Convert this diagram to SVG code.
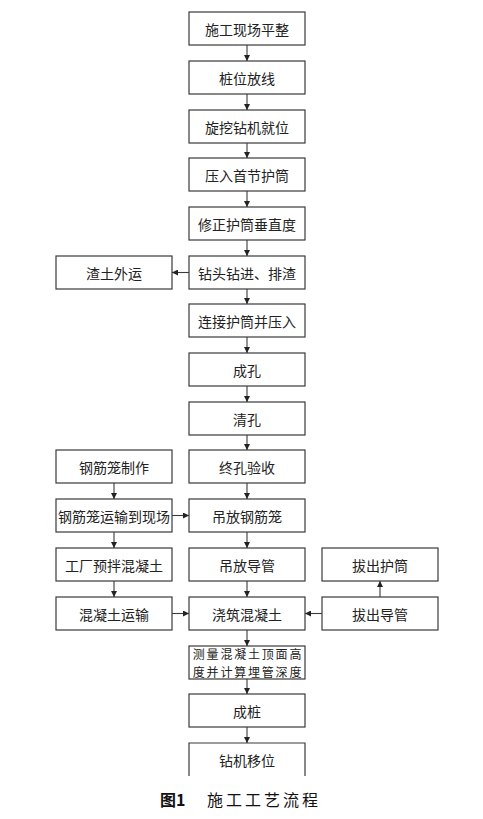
<svg xmlns="http://www.w3.org/2000/svg" width="483" height="819" viewBox="0 0 483 819">
<defs>
<style>
.b{fill:#fff;stroke:#3a3a3a;stroke-width:1.2}
.t{font-family:"Noto Sans CJK SC","Noto Sans CJK JP",sans-serif;font-size:14px;fill:#222;text-anchor:middle;dominant-baseline:central}
.s{font-size:12px;letter-spacing:1.8px}
.c{stroke:#3a3a3a;stroke-width:1.1;fill:none;marker-end:url(#ah)}
.cap{font-family:"Noto Sans CJK SC",sans-serif;fill:#111;font-size:16px}
</style>
<marker id="ah" viewBox="0 0 10 10" refX="10" refY="5" markerWidth="6" markerHeight="6" markerUnits="userSpaceOnUse" orient="auto">
<path d="M0,0 L10,5 L0,10 z" fill="#222"/>
</marker>
</defs>
<rect width="483" height="819" fill="#fff"/>
<g id="n1"><rect class="b" x="189" y="12" width="116" height="33"/><text class="t" x="247" y="28.5">施工现场平整</text></g>
<g id="n2"><rect class="b" x="189" y="61" width="116" height="33"/><text class="t" x="247" y="77.5">桩位放线</text></g>
<g id="n3"><rect class="b" x="189" y="110" width="116" height="33"/><text class="t" x="247" y="126.5">旋挖钻机就位</text></g>
<g id="n4"><rect class="b" x="189" y="158" width="116" height="33"/><text class="t" x="247" y="174.5">压入首节护筒</text></g>
<g id="n5"><rect class="b" x="189" y="207" width="116" height="33"/><text class="t" x="247" y="223.5">修正护筒垂直度</text></g>
<g id="n6"><rect class="b" x="189" y="256" width="116" height="33"/><text class="t" x="247" y="272.5">钻头钻进、排渣</text></g>
<g id="n6l"><rect class="b" x="56" y="256" width="116" height="33"/><text class="t" x="114" y="272.5">渣土外运</text></g>
<g id="n7"><rect class="b" x="189" y="304" width="116" height="33"/><text class="t" x="247" y="320.5">连接护筒并压入</text></g>
<g id="n8"><rect class="b" x="189" y="353" width="116" height="33"/><text class="t" x="247" y="369.5">成孔</text></g>
<g id="n9"><rect class="b" x="189" y="402" width="116" height="33"/><text class="t" x="247" y="418.5">清孔</text></g>
<g id="n10"><rect class="b" x="189" y="450" width="116" height="33"/><text class="t" x="247" y="466.5">终孔验收</text></g>
<g id="n11"><rect class="b" x="189" y="499" width="116" height="33"/><text class="t" x="247" y="515.5">吊放钢筋笼</text></g>
<g id="n12"><rect class="b" x="189" y="548" width="116" height="33"/><text class="t" x="247" y="564.5">吊放导管</text></g>
<g id="n13"><rect class="b" x="189" y="597" width="116" height="33"/><text class="t" x="247" y="613.5">浇筑混凝土</text></g>
<g id="n14"><rect class="b" x="189" y="646" width="116" height="33"/><text class="t s" x="248" y="653.5">测量混凝土顶面高</text><text class="t s" x="248" y="671.5">度并计算埋管深度</text></g>
<g id="n15"><rect class="b" x="189" y="694" width="116" height="33"/><text class="t" x="247" y="710.5">成桩</text></g>
<g id="n16"><path class="b" d="M189,776 V743 H305 V776"/><text class="t" x="247" y="759.5">钻机移位</text></g>
<g id="l1"><rect class="b" x="56" y="450" width="116" height="33"/><text class="t" x="114" y="466.5">钢筋笼制作</text></g>
<g id="l2"><rect class="b" x="56" y="499" width="116" height="33"/><text class="t" x="114" y="515.5">钢筋笼运输到现场</text></g>
<g id="l3"><rect class="b" x="56" y="548" width="116" height="33"/><text class="t" x="114" y="564.5">工厂预拌混凝土</text></g>
<g id="l4"><rect class="b" x="56" y="597" width="116" height="33"/><text class="t" x="114" y="613.5">混凝土运输</text></g>
<g id="r1"><rect class="b" x="322" y="548" width="116" height="33"/><text class="t" x="380" y="564.5">拔出护筒</text></g>
<g id="r2"><rect class="b" x="322" y="597" width="116" height="33"/><text class="t" x="380" y="613.5">拔出导管</text></g>
<g id="connectors">
<line class="c" x1="247" y1="45" x2="247" y2="61"/>
<line class="c" x1="247" y1="94" x2="247" y2="110"/>
<line class="c" x1="247" y1="143" x2="247" y2="158"/>
<line class="c" x1="247" y1="191" x2="247" y2="207"/>
<line class="c" x1="247" y1="240" x2="247" y2="256"/>
<line class="c" x1="247" y1="289" x2="247" y2="304"/>
<line class="c" x1="247" y1="337" x2="247" y2="353"/>
<line class="c" x1="247" y1="386" x2="247" y2="402"/>
<line class="c" x1="247" y1="435" x2="247" y2="450"/>
<line class="c" x1="247" y1="483" x2="247" y2="499"/>
<line class="c" x1="247" y1="532" x2="247" y2="548"/>
<line class="c" x1="247" y1="581" x2="247" y2="597"/>
<line class="c" x1="247" y1="630" x2="247" y2="646"/>
<line class="c" x1="247" y1="679" x2="247" y2="694"/>
<line class="c" x1="247" y1="727" x2="247" y2="743"/>
<line class="c" x1="189" y1="272.5" x2="172" y2="272.5"/>
<line class="c" x1="114" y1="483" x2="114" y2="499"/>
<line class="c" x1="114" y1="532" x2="114" y2="548"/>
<line class="c" x1="114" y1="581" x2="114" y2="597"/>
<line class="c" x1="172" y1="515.5" x2="189" y2="515.5"/>
<line class="c" x1="172" y1="613.5" x2="189" y2="613.5"/>
<line class="c" x1="322" y1="613.5" x2="305" y2="613.5"/>
<line class="c" x1="380" y1="597" x2="380" y2="581"/>
</g>
<text class="cap" x="160" y="806" font-weight="bold">图1</text>
<text class="cap" x="207" y="806" letter-spacing="3">施工工艺流程</text>
</svg>
